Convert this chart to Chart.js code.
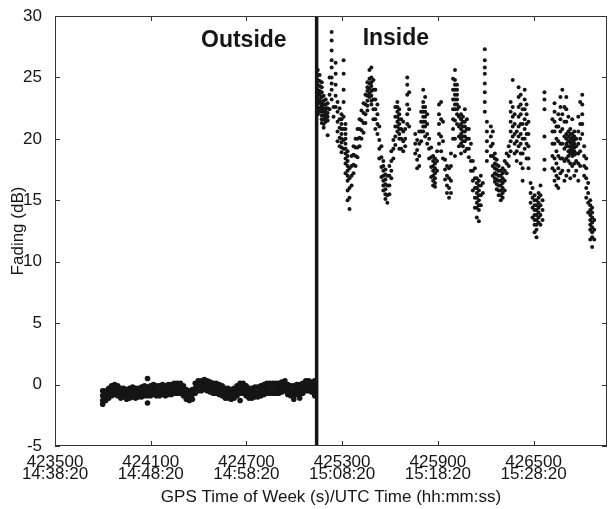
<!DOCTYPE html>
<html>
<head>
<meta charset="utf-8">
<script src="https://cdn.jsdelivr.net/npm/chart.js@4.4.0/dist/chart.umd.min.js"></script>
<style>
  html, body { margin: 0; padding: 0; background: #fff; }
  canvas { display: block; }
</style>
</head>
<body>
<canvas id="fading" width="611" height="509"></canvas>
<script>
// tick labels
const gpsTicks = [423500, 424100, 424700, 425300, 425900, 426500];
const utcTicks = ['14:38:20', '14:48:20', '14:58:20', '15:08:20', '15:18:20', '15:28:20'];
const fadingTicks = [-5, 0, 5, 10, 15, 20, 25, 30];

// moment the receiver was carried inside (s)
const boundaryTime = 425140;

// outside: GPS time (s) and fading readings (dB) at that time
const outsideTimes = [
  423799, 423818, 423837, 423855, 423874, 423893, 423912, 423930, 423949, 423968,
  423986, 424005, 424024, 424043, 424061, 424080, 424099, 424117, 424136, 424155,
  424174, 424192, 424211, 424230, 424248, 424267, 424286, 424305, 424323, 424342,
  424361, 424379, 424398, 424417, 424436, 424454, 424473, 424492, 424510, 424529,
  424548, 424567, 424585, 424604, 424623, 424641, 424660, 424679, 424698, 424716,
  424735, 424754, 424772, 424791, 424810, 424828, 424847, 424866, 424885, 424903,
  424922, 424941, 424959, 424978, 424997, 425016, 425034, 425053, 425072, 425090,
  425109, 425128
];
const outsideFading = [
  [-0.5, -0.9, -1.3, -1.6], [-0.5, -0.9, -1.3], [-0.3, -0.7, -1.1], [-0.1, -0.5, -0.9],
  [0.0, -0.4, -0.8], [-0.1, -0.5, -0.9], [-0.3, -0.7, -1.1], [-0.3, -0.7, -1.0],
  [-0.4, -0.8, -1.2], [-0.3, -0.7, -1.1], [-0.2, -0.6, -1.0], [-0.3, -0.7, -1.1],
  [-0.3, -0.7, -1.0], [-0.2, -0.6, -1.0], [-0.1, -0.5, -0.9], [0.5, -0.2, -0.5, -0.9, -1.5],
  [-0.1, -0.5, -0.9], [0.0, -0.4, -0.8], [-0.1, -0.5, -0.9], [-0.1, -0.5, -0.9],
  [0.0, -0.4, -0.8], [-0.1, -0.5, -0.9], [0.0, -0.4, -0.8], [0.0, -0.4, -0.8],
  [0.1, -0.3, -0.7], [0.1, -0.3, -0.7], [0.1, -0.3, -0.7], [-0.1, -0.5, -0.9],
  [-0.4, -0.8, -1.2], [-0.5, -0.9, -1.3], [-0.4, -0.8, -1.2], [0.1, -0.3, -0.7],
  [0.3, -0.1, -0.5], [0.3, -0.1, -0.5], [0.4, 0.0, -0.4], [0.3, -0.1, -0.5],
  [0.2, -0.2, -0.6], [0.1, -0.3, -0.7], [0.1, -0.3, -0.7], [0.0, -0.4, -0.8],
  [-0.1, -0.5, -0.9], [-0.3, -0.7, -1.1], [-0.3, -0.7, -1.1], [-0.4, -0.8, -1.2],
  [-0.3, -0.7, -1.1], [-0.1, -0.5, -0.9], [0.1, -0.3, -0.7, -1.3], [0.1, -0.3, -0.7],
  [-0.1, -0.5, -0.9], [-0.3, -0.7, -1.1], [-0.3, -0.7, -1.1], [-0.2, -0.6, -1.0],
  [-0.2, -0.6, -1.0], [-0.1, -0.5, -0.9], [0.0, -0.4, -0.8], [0.1, -0.3, -0.7],
  [0.1, -0.3, -0.7], [0.1, -0.3, -0.7], [0.1, -0.3, -0.7], [0.1, -0.3, -0.7],
  [0.2, -0.2, -0.6], [0.3, -0.1, -0.5], [0.0, -0.4, -0.8], [-0.1, -0.5, -0.9],
  [-0.1, -0.5, -0.9, -1.2], [0.0, -0.4, -0.8], [0.0, -0.4, -0.8, -1.1], [0.1, -0.3, -0.7],
  [0.3, -0.1, -0.5], [0.3, -0.1, -0.5], [0.2, -0.2, -0.6], [0.3, -0.1, -0.5, -0.9]
];

// inside: GPS time (s) and fading readings (dB) at that time
const insideTimes = [
  425147, 425159, 425172, 425184, 425197, 425209, 425221, 425234, 425246, 425259,
  425271, 425284, 425296, 425309, 425321, 425334, 425346, 425359, 425371, 425384,
  425396, 425409, 425421, 425434, 425446, 425458, 425471, 425483, 425496, 425508,
  425521, 425533, 425546, 425558, 425571, 425583, 425596, 425608, 425621, 425633,
  425646, 425658, 425670, 425683, 425695, 425708, 425720, 425758, 425770, 425783,
  425795, 425808, 425820, 425833, 425845, 425858, 425870, 425882, 425895, 425907,
  425920, 425932, 425945, 425957, 425970, 425982, 425995, 426007, 426020, 426032,
  426045, 426057, 426069, 426082, 426094, 426107, 426119, 426132, 426144, 426157,
  426169, 426182, 426194, 426207, 426232, 426244, 426257, 426269, 426281, 426294,
  426306, 426319, 426331, 426344, 426356, 426369, 426381, 426394, 426406, 426419,
  426431, 426444, 426456, 426468, 426481, 426493, 426506, 426518, 426531, 426543,
  426556, 426568, 426618, 426631, 426643, 426655, 426668, 426680, 426693, 426705,
  426718, 426730, 426742, 426755, 426767, 426780, 426792, 426805, 426817, 426830,
  426842, 426855, 426867, 426880
];
const insideFading = [
  [25.6, 25.2, 24.8, 24.4, 24.0, 23.7, 23.4, 23.0, 22.6, 22.3, 22.0],
  [25.2, 24.7, 24.3, 23.9, 23.6, 23.2, 22.9, 22.5, 22.2],
  [24.6, 24.2, 23.8, 23.4, 23.0, 22.7, 22.5, 22.2, 21.9, 21.6, 21.3],
  [23.5, 23.1, 22.8, 22.5, 22.2, 21.9, 21.6, 21.2, 20.9],
  [23.2, 22.8, 22.5, 22.2, 22.0, 21.7, 21.4],
  [22.9, 22.5, 22.1, 21.8, 21.5, 20.3],
  [25.0, 23.6, 22.4], [28.7, 28.0, 27.2, 26.4, 25.8, 25.0, 24.5, 24.0, 23.2], [22.6, 21.8],
  [26.2, 25.3, 24.4, 23.5, 22.6], [23.0, 22.2, 21.4, 20.6, 19.8], [22.5, 21.6, 20.9, 20.1, 19.4],
  [22.0, 21.6, 21.2, 20.8, 20.4, 20.0, 19.7, 19.3, 18.9],
  [26.4, 25.3, 24.0, 23.0, 21.8, 20.8, 19.9, 19.2],
  [21.2, 20.8, 20.4, 20.0, 19.6, 19.2, 18.8, 18.4, 18.0, 17.2],
  [19.0, 18.6, 18.2, 17.8, 17.4, 17.0, 16.6, 15.8, 15.0],
  [17.6, 16.8, 16.0, 15.2, 14.3], [18.6, 17.8, 17.0, 16.2],
  [19.4, 18.7, 17.9, 17.2], [20.0, 19.3, 18.6, 17.8], [20.8, 20.0, 19.3, 18.5],
  [21.6, 20.8, 20.1, 19.4], [22.3, 21.5, 20.7, 20.0], [22.9, 22.1, 21.3, 20.5],
  [23.6, 22.8, 22.0, 21.3],
  [24.6, 24.2, 23.9, 23.5, 23.1, 22.7, 22.3],
  [25.6, 24.9, 24.5, 24.1, 23.7, 23.4],
  [25.8, 25.0, 24.6, 24.3, 23.9, 23.5, 23.1, 22.8],
  [24.8, 24.0, 23.2, 22.4, 21.6], [24.0, 23.2, 22.4, 21.6, 20.8],
  [22.8, 22.0, 21.2, 20.4], [21.0, 19.9, 19.2, 18.4], [19.4, 18.5, 17.7, 16.9],
  [18.2, 17.8, 17.4, 17.0, 16.6, 16.2, 15.8],
  [17.5, 17.1, 16.7, 16.3, 15.9, 15.5, 15.1],
  [17.0, 16.2, 15.4, 14.8],
  [17.8, 17.0, 16.2, 15.5], [19.0, 18.2, 17.4, 16.8], [19.9, 19.2, 18.4],
  [22.6, 21.8, 21.0, 20.2, 19.5],
  [23.0, 22.6, 22.2, 21.8, 21.4, 21.0, 20.6],
  [22.4, 22.0, 21.6, 21.2, 20.8, 20.4, 20.0, 19.2],
  [21.6, 20.8, 20.0, 19.2], [21.4, 20.6, 19.8, 19.0], [20.8, 20.0, 19.4],
  [25.0, 24.4, 23.6, 22.8, 22.0, 21.2], [23.8, 22.4, 21.0], [20.4, 19.6, 18.8],
  [19.9, 19.1, 18.3, 17.6], [20.6, 19.6, 18.6, 17.8], [22.2, 21.4, 20.6, 19.8],
  [24.0, 23.0, 22.6, 22.2, 21.8, 21.4, 21.0, 20.6],
  [23.4, 22.6, 22.2, 21.8, 21.4, 21.0, 20.2],
  [22.0, 21.2, 20.4, 19.6],
  [20.0, 19.2, 18.4], [19.3, 18.5, 17.7, 16.9],
  [18.6, 18.2, 17.8, 17.4, 17.0, 16.6, 16.2],
  [18.4, 18.0, 17.6, 17.2, 16.8, 16.4, 16.1],
  [19.0, 18.2, 17.4], [22.8, 22.0, 21.2, 20.4, 19.6],
  [23.0, 21.6, 20.2, 19.0], [21.4, 19.8, 18.4], [18.3, 17.5, 16.7],
  [17.8, 17.0, 16.2, 15.6], [17.6, 16.8, 16.0, 15.2], [18.8, 17.8, 16.6, 15.6],
  [24.9, 24.0, 23.2, 22.4, 21.6, 20.8, 20.0],
  [25.6, 24.8, 24.4, 24.0, 23.6, 23.2, 22.8, 22.4, 21.5, 20.0, 18.6],
  [24.4, 24.0, 23.6, 23.2, 22.8, 22.4, 22.0, 21.2],
  [22.6, 21.8, 21.0, 20.2, 19.4],
  [22.0, 21.6, 21.2, 20.8, 20.4, 20.0, 19.6, 18.8],
  [21.8, 21.4, 21.0, 20.6, 20.2, 19.8, 19.4],
  [22.4, 21.4, 21.0, 20.6, 20.2, 19.8, 19.0],
  [21.6, 20.8, 20.0, 19.2], [20.8, 20.0, 19.2, 18.5],
  [19.6, 18.2, 17.4], [18.2, 17.4, 16.6, 15.8], [17.6, 16.8, 16.0, 15.2, 14.4],
  [16.8, 16.4, 16.0, 15.6, 15.2, 14.8, 14.4, 13.6],
  [16.6, 16.2, 15.8, 15.4, 15.0, 14.6, 14.2, 13.3],
  [17.0, 16.2, 15.4, 14.6],
  [16.4, 15.6], [27.3, 26.4, 25.8, 25.3, 24.5, 23.8, 23.0, 22.2], [21.4, 20.6, 19.8, 19.0, 18.2],
  [21.0, 20.2, 19.4, 18.6], [20.6, 19.6, 18.6, 17.8, 17.0],
  [18.8, 18.4, 18.0, 17.6, 17.2, 16.8, 16.5],
  [18.3, 17.9, 17.5, 17.1, 16.7, 16.3, 15.9],
  [17.8, 17.4, 17.0, 16.6, 16.2, 15.8, 15.4],
  [17.4, 17.0, 16.6, 16.2, 15.8, 15.4, 15.0],
  [17.6, 17.2, 16.8, 16.4, 16.0, 15.6, 15.2],
  [18.2, 17.4, 16.6, 15.8], [18.8, 18.0, 17.2],
  [19.4, 18.6, 17.8], [23.0, 22.2, 21.4, 20.6, 19.8, 19.0], [24.8, 22.6, 21.8, 21.0, 20.2],
  [22.0, 21.2, 20.4, 19.6, 18.8], [20.6, 19.8, 19.0, 18.2], [24.2, 23.4, 22.6, 21.8, 21.0, 20.2, 19.4],
  [23.6, 22.8, 22.0, 21.2, 20.4, 19.6, 18.8, 18.0], [22.4, 21.2, 20.0, 18.8, 17.6, 16.6], [24.0, 23.2, 22.4, 21.6, 20.8, 20.0, 19.2],
  [22.8, 22.0, 21.2, 20.4, 19.6, 18.4], [21.4, 20.4, 19.4, 18.4, 17.6], [16.4, 15.6, 14.8],
  [16.0, 15.2, 14.4, 13.6],
  [15.4, 15.0, 14.6, 14.2, 13.8, 13.4, 13.0, 12.4],
  [15.0, 14.6, 14.2, 13.8, 13.4, 13.0, 12.6, 12.0],
  [15.6, 15.2, 14.8, 14.4, 14.0, 13.6, 13.2],
  [16.2, 15.4, 14.6, 13.8, 13.0], [15.0, 14.2, 13.4],
  [23.8, 23.2, 22.4, 20.2, 18.3, 17.5], [21.6, 20.6, 19.6, 18.6, 17.6], [22.9, 22.2, 21.4, 20.6, 19.6, 18.4, 17.4, 16.6],
  [21.0, 20.0, 19.0, 18.0, 17.0, 16.2], [22.0, 21.0, 19.8, 18.6, 17.6, 16.8, 16.0], [23.4, 22.6, 21.6, 20.6, 19.6, 18.4, 17.2],
  [24.0, 22.0, 20.8, 19.6, 18.4, 17.4], [22.6, 21.4, 20.2, 19.2, 18.2, 16.6],
  [23.4, 22.4, 21.4, 20.4, 20.0, 19.6, 19.4, 18.4, 17.0],
  [21.8, 20.6, 20.2, 19.8, 19.4, 19.0, 18.6, 18.2, 17.4],
  [20.8, 20.4, 20.0, 19.7, 19.4, 19.1, 18.8, 18.0, 16.8],
  [21.6, 20.4, 20.1, 19.8, 19.5, 19.2, 18.9, 18.6, 17.8],
  [20.6, 20.2, 19.9, 19.6, 19.3, 19.0, 18.7, 18.0, 17.0],
  [20.0, 19.4, 18.8, 18.2, 17.4], [21.8, 20.6, 19.6, 18.8, 18.0, 16.6],
  [23.0, 21.2, 20.0, 19.0, 17.8], [23.6, 22.8, 22.0, 21.2, 20.4], [19.4, 18.6, 17.8, 17.0],
  [18.4, 17.6, 16.8, 16.0, 15.2], [16.4, 15.6, 14.8, 14.0],
  [15.0, 14.6, 14.2, 13.8, 13.4, 13.0, 12.6, 11.8],
  [14.4, 14.0, 13.6, 13.2, 12.8, 12.4, 12.0, 11.2],
  [13.4, 12.6, 11.8]
];

const toPoints = (times, readings) =>
  times.flatMap((t, i) => readings[i].map(v => ({ x: t, y: v })));

const FONT = "'Liberation Sans', Arial, sans-serif";
const INK = '#151515';

// matlab style box with inward ticks, plus the region labels
const frame = {
  id: 'frame',
  afterDatasetsDraw(chart) {
    const { ctx, chartArea: a, scales: { x, y } } = chart;
    ctx.save();
    ctx.strokeStyle = '#333';
    ctx.lineWidth = 1;
    ctx.strokeRect(a.left + 0.5, a.top + 0.5, a.width - 1, a.height - 1);
    ctx.beginPath();
    gpsTicks.forEach(v => {
      const px = Math.round(x.getPixelForValue(v)) + 0.5;
      ctx.moveTo(px, a.bottom); ctx.lineTo(px, a.bottom - 5);
      ctx.moveTo(px, a.top); ctx.lineTo(px, a.top + 5);
    });
    fadingTicks.forEach(v => {
      const py = Math.round(y.getPixelForValue(v)) + 0.5;
      ctx.moveTo(a.left, py); ctx.lineTo(a.left + 5, py);
      ctx.moveTo(a.right, py); ctx.lineTo(a.right - 5, py);
    });
    ctx.stroke();

    const bx = x.getPixelForValue(boundaryTime);
    ctx.fillStyle = INK;
    ctx.font = `bold 23px ${FONT}`;
    ctx.textBaseline = 'middle';
    ctx.textAlign = 'right';
    ctx.fillText('Outside', bx - 30, a.top + 25);
    ctx.textAlign = 'left';
    ctx.fillText('Inside', bx + 46, a.top + 23);
    ctx.restore();
  }
};

new Chart(document.getElementById('fading'), {
  type: 'scatter',
  data: {
    datasets: [
      {
        label: 'Outside',
        data: toPoints(outsideTimes, outsideFading),
        backgroundColor: INK,
        borderWidth: 0,
        pointRadius: 2.8
      },
      {
        label: 'Inside',
        data: toPoints(insideTimes, insideFading),
        backgroundColor: INK,
        borderWidth: 0,
        pointRadius: 2
      },
      {
        type: 'line',
        label: 'Boundary',
        data: [{ x: boundaryTime, y: -5 }, { x: boundaryTime, y: 30 }],
        borderColor: INK,
        borderWidth: 3.5,
        pointRadius: 0
      }
    ]
  },
  options: {
    responsive: false,
    animation: false,
    devicePixelRatio: 1,
    layout: { padding: { top: 16, right: 1, bottom: 0, left: 0 } },
    plugins: {
      legend: { display: false },
      tooltip: { enabled: false }
    },
    scales: {
      x: {
        type: 'linear',
        min: 423500,
        max: 426960,
        afterBuildTicks: s => { s.ticks = gpsTicks.map(v => ({ value: v })); },
        afterFit: s => { s.height = 63; },
        grid: { display: false },
        border: { display: false },
        ticks: {
          autoSkip: false,
          maxRotation: 0,
          padding: 3,
          color: INK,
          font: { family: FONT, size: 17, lineHeight: 0.68 },
          callback: v => [String(v), utcTicks[gpsTicks.indexOf(v)]]
        },
        title: {
          display: true,
          text: 'GPS Time of Week (s)/UTC Time (hh:mm:ss)',
          color: INK,
          font: { family: FONT, size: 17 },
          padding: { top: 0, bottom: 1 }
        }
      },
      y: {
        min: -5,
        max: 30,
        afterBuildTicks: s => { s.ticks = fadingTicks.map(v => ({ value: v })); },
        afterFit: s => { s.width = 55; },
        grid: { display: false },
        border: { display: false },
        ticks: {
          padding: 5,
          color: INK,
          font: { family: FONT, size: 17 }
        },
        title: {
          display: true,
          text: 'Fading (dB)',
          color: INK,
          font: { family: FONT, size: 17 },
          padding: { top: 8, bottom: 0 }
        }
      }
    }
  },
  plugins: [frame]
});
</script>
</body>
</html>
